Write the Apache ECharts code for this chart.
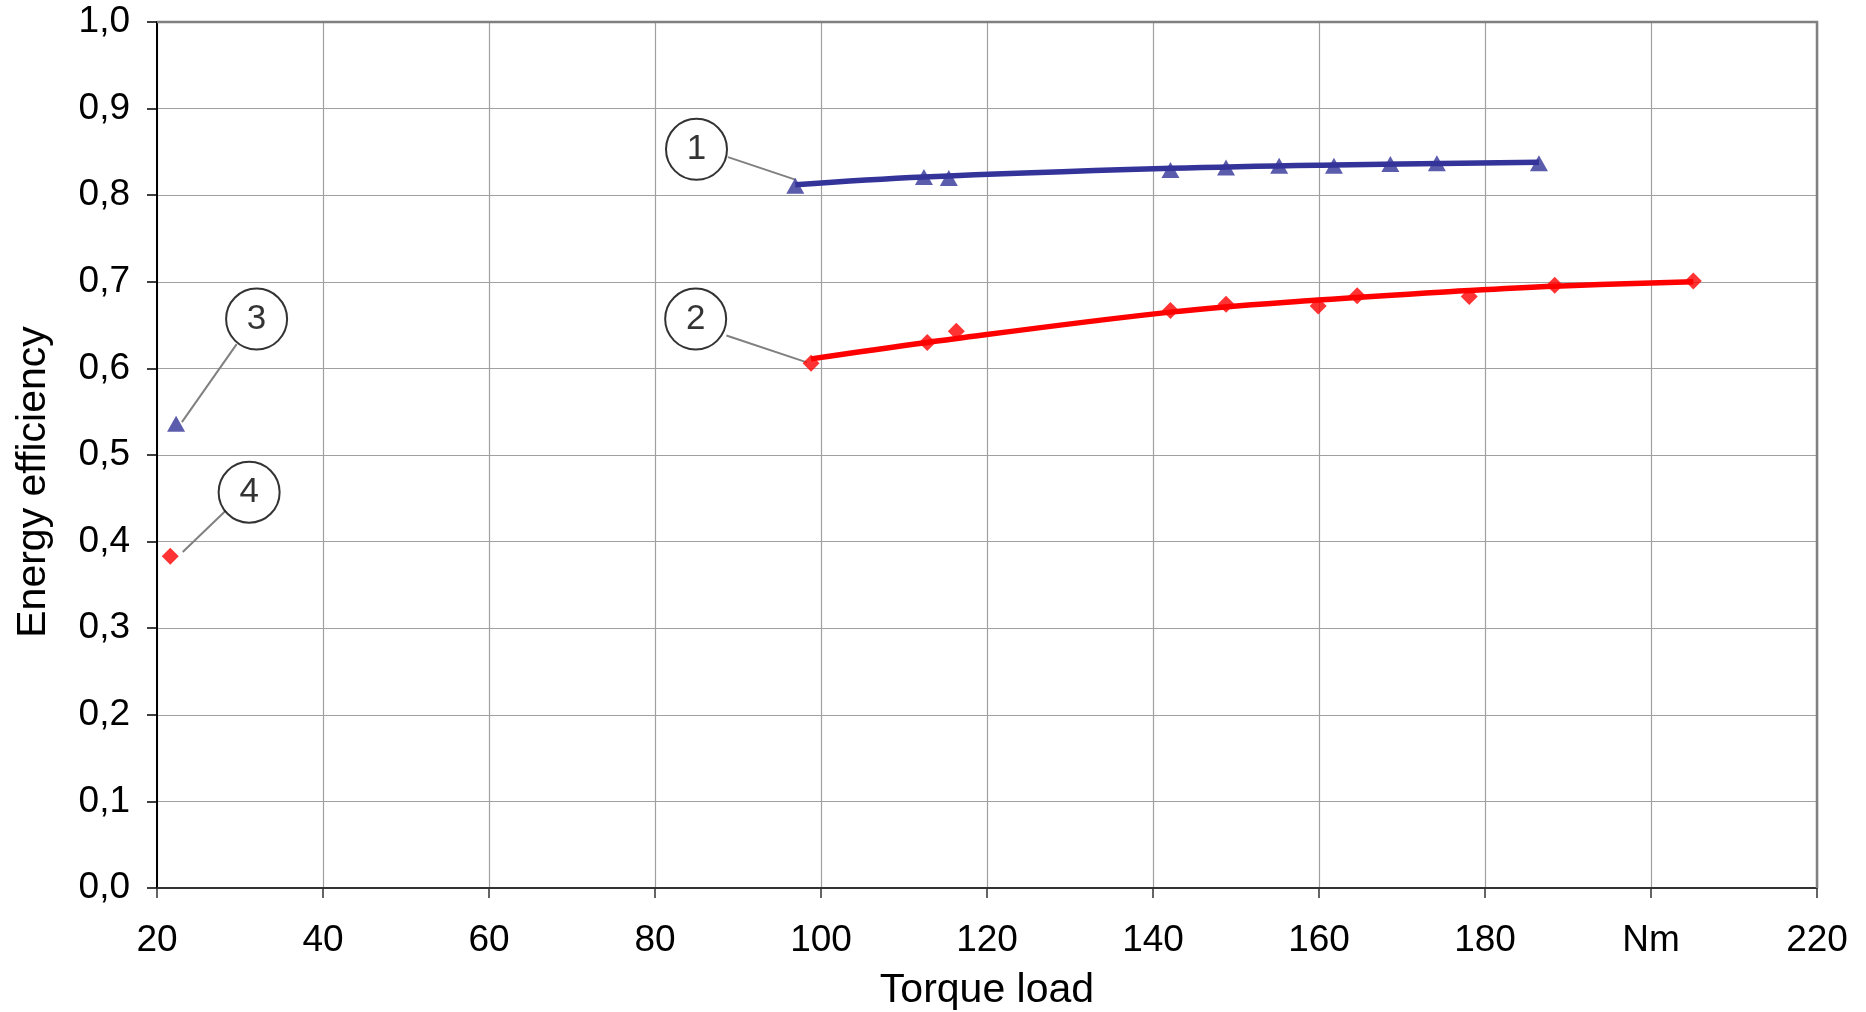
<!DOCTYPE html>
<html>
<head>
<meta charset="utf-8">
<title>Energy efficiency vs torque load</title>
<script src="https://cdn.jsdelivr.net/npm/echarts@6/dist/echarts.min.js"></script>
<style>
  html, body { margin: 0; padding: 0; background: #fff; }
  #chart { width: 1866px; height: 1012px; }
</style>
</head>
<body>
<div id="chart"></div>
<script>
// tick labels
const xTickLabels = ['20', '40', '60', '80', '100', '120', '140', '160', '180', 'Nm', '220'];
const yTickLabels = ['0,0', '0,1', '0,2', '0,3', '0,4', '0,5', '0,6', '0,7', '0,8', '0,9', '1,0'];

// curve 1 (blue, triangles)
const blueX = [96.9, 112.4, 115.4, 142.1, 148.8, 155.2, 161.8, 168.6, 174.2, 186.5];
const blueY = [0.811, 0.821, 0.820, 0.829, 0.832, 0.834, 0.834, 0.836, 0.837, 0.837];
const blueLineX = [96.9, 112.4, 142.1, 161.8, 186.5];
const blueLineY = [0.812, 0.821, 0.831, 0.835, 0.838];

// curve 2 (red, diamonds)
const redX = [98.8, 112.8, 116.3, 142.1, 148.8, 159.9, 164.6, 178.1, 188.4, 205.1];
const redY = [0.606, 0.630, 0.643, 0.667, 0.674, 0.672, 0.684, 0.683, 0.696, 0.701];
const redLineX = [98.8, 112.8, 142.1, 159.9, 178.1, 188.4, 205.1];
const redLineY = [0.611, 0.630, 0.665, 0.679, 0.690, 0.695, 0.700];

// single points 3 and 4
const point3 = [22.3, 0.536];
const point4 = [21.6, 0.383];

// numbered callouts: [x, y, label]
const callouts = [[85.0, 0.853, '1'], [84.9, 0.657, '2'], [32.0, 0.657, '3'], [31.1, 0.457, '4']];
// leader lines from callout to point
const leaders = [
  [[88.8, 0.844], [96.9, 0.818]],
  [[88.6, 0.638], [98.3, 0.607]],
  [[29.6, 0.628], [23.0, 0.538]],
  [[28.3, 0.436], [23.1, 0.388]]
];

const pairs = (xs, ys) => xs.map((x, i) => [x, ys[i]]);
const font = 'Liberation Sans, Arial, sans-serif';

const chart = echarts.init(document.getElementById('chart'));

const series = [
  {
    type: 'line', data: pairs(blueLineX, blueLineY), smooth: 0.4, symbol: 'none',
    lineStyle: { color: '#333399', width: 5.5 }, z: 3
  },
  {
    type: 'scatter', data: pairs(blueX, blueY).concat([point3]), symbol: 'triangle',
    symbolSize: [18, 16], itemStyle: { color: '#333399' }, z: 4
  },
  {
    type: 'line', data: pairs(redLineX, redLineY), smooth: 0.4, symbol: 'none',
    lineStyle: { color: '#ff0000', width: 5.5 }, z: 3
  },
  {
    type: 'scatter', data: pairs(redX, redY).concat([point4]), symbol: 'diamond',
    symbolSize: 17, itemStyle: { color: '#ff0000' }, z: 4
  }
];

leaders.forEach(l => {
  series.push({
    type: 'line', data: l, symbol: 'none', silent: true,
    lineStyle: { color: '#808080', width: 2 }, z: 2
  });
});

series.push({
  type: 'scatter', data: callouts.map(c => [c[0], c[1], c[2]]), symbol: 'circle', symbolSize: 61,
  itemStyle: { color: '#fff', borderColor: '#000', borderWidth: 2 },
  label: {
    show: true, position: 'inside', formatter: p => p.value[2],
    color: '#000', fontSize: 35, fontFamily: font
  },
  z: 5
});

chart.setOption({
  backgroundColor: '#fff',
  animation: false,
  grid: { left: 157, right: 49, top: 22, bottom: 124, outerBoundsMode: 'none', containLabel: false },
  xAxis: {
    type: 'value', min: 20, max: 220, interval: 20,
    name: 'Torque load', nameLocation: 'middle', nameGap: 82,
    nameTextStyle: { color: '#000', fontSize: 41, fontFamily: font },
    axisLine: { show: true, lineStyle: { color: '#333', width: 2 } },
    axisTick: { show: true, length: 10, lineStyle: { color: '#333', width: 1.5 } },
    axisLabel: {
      color: '#000', fontSize: 37, fontFamily: font, margin: 34,
      formatter: v => xTickLabels[Math.round((v - 20) / 20)]
    },
    splitLine: { show: true, lineStyle: { color: '#a0a0a0', width: 1.2 } }
  },
  yAxis: {
    type: 'value', min: 0, max: 1, interval: 0.1,
    name: 'Energy efficiency', nameLocation: 'middle', nameGap: 103, nameRotate: 90,
    nameTextStyle: { color: '#000', fontSize: 41, fontFamily: font, padding: [0, 54, 0, 0] },
    axisLine: { show: true, lineStyle: { color: '#000', width: 2 } },
    axisTick: { show: true, length: 10, lineStyle: { color: '#000', width: 1.5 } },
    axisLabel: {
      color: '#000', fontSize: 37, fontFamily: font, margin: 27,
      formatter: v => yTickLabels[Math.round(v * 10)]
    },
    splitLine: { show: true, lineStyle: { color: '#a0a0a0', width: 1.2 } }
  },
  series: series
});

// top and right frame of the plot area
const tl = chart.convertToPixel('grid', [20, 1]);
const br = chart.convertToPixel('grid', [220, 0]);
chart.setOption({
  graphic: [{
    type: 'polyline', silent: true, z: 1,
    shape: { points: [[tl[0], tl[1]], [br[0], tl[1]], [br[0], br[1]]] },
    style: { stroke: '#808080', lineWidth: 2.5, fill: null }
  }]
});
</script>
</body>
</html>
